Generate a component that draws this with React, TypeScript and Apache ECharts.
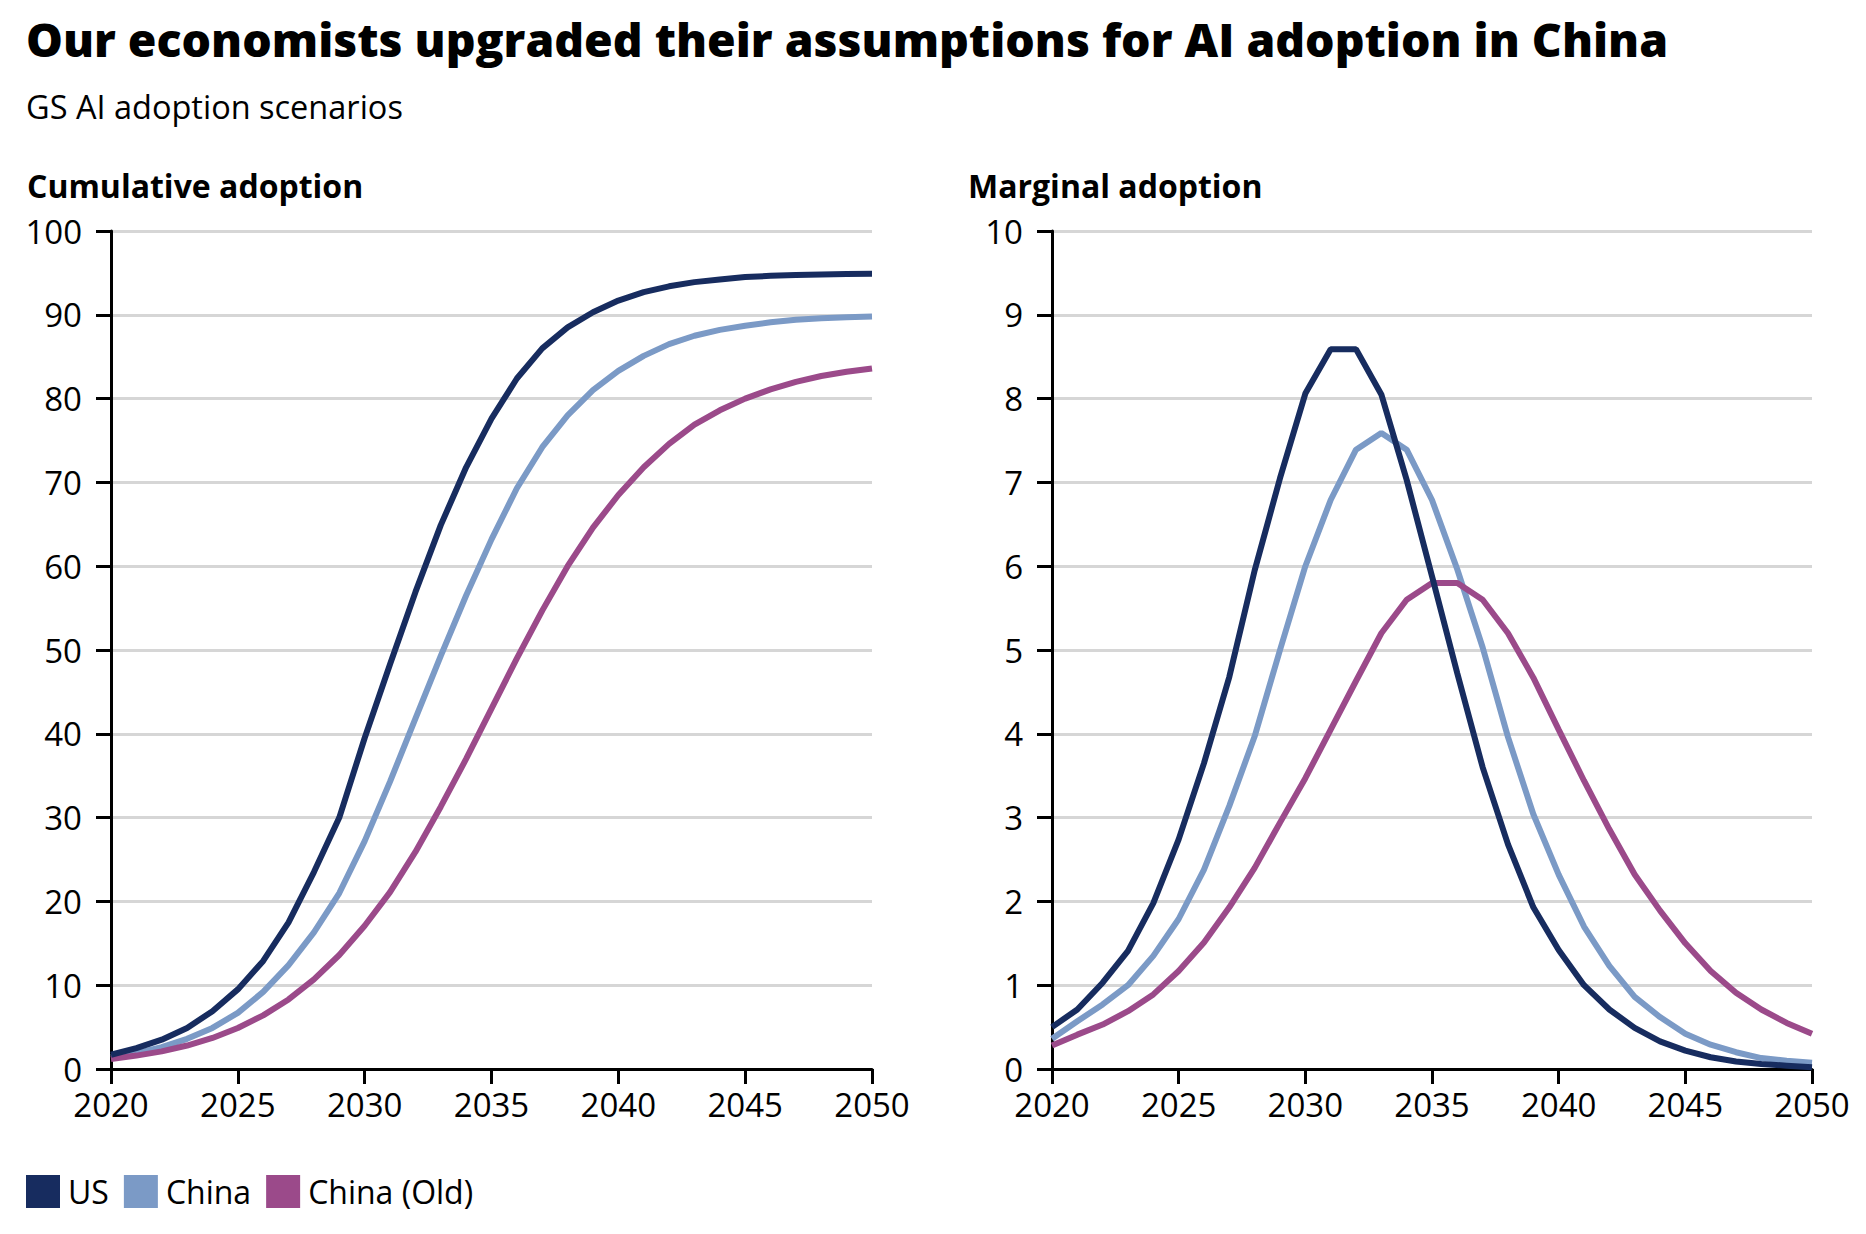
import React, { useEffect, useRef } from "react";
import * as echarts from "echarts";

const years = [2020, 2021, 2022, 2023, 2024, 2025, 2026, 2027, 2028, 2029, 2030, 2031, 2032, 2033, 2034, 2035, 2036, 2037, 2038, 2039, 2040, 2041, 2042, 2043, 2044, 2045, 2046, 2047, 2048, 2049, 2050];

const usCumulative = [1.7, 2.5, 3.5, 4.9, 6.9, 9.5, 12.9, 17.5, 23.5, 30.0, 39.5, 48.3, 56.9, 64.9, 71.8, 77.6, 82.4, 86.0, 88.5, 90.3, 91.7, 92.7, 93.4, 93.9, 94.2, 94.5, 94.65, 94.75, 94.82, 94.87, 94.9];
const chinaCumulative = [1.4, 1.9, 2.6, 3.6, 4.9, 6.7, 9.2, 12.4, 16.3, 21.0, 27.2, 34.3, 41.8, 49.3, 56.5, 63.2, 69.3, 74.2, 78.0, 81.0, 83.3, 85.1, 86.5, 87.5, 88.2, 88.7, 89.1, 89.4, 89.6, 89.7, 89.8];
const chinaOldCumulative = [1.2, 1.6, 2.1, 2.8, 3.7, 4.9, 6.4, 8.3, 10.7, 13.6, 17.1, 21.1, 25.9, 31.3, 37.0, 43.0, 49.0, 54.7, 60.0, 64.6, 68.5, 71.8, 74.6, 76.9, 78.6, 80.0, 81.1, 82.0, 82.7, 83.2, 83.6];

const usMarginal = [0.5, 0.71, 1.03, 1.41, 1.98, 2.74, 3.65, 4.68, 5.95, 7.05, 8.06, 8.59, 8.59, 8.05, 7.03, 5.88, 4.72, 3.6, 2.68, 1.93, 1.42, 1.0, 0.71, 0.49, 0.33, 0.22, 0.14, 0.09, 0.06, 0.04, 0.02];
const chinaMarginal = [0.36, 0.57, 0.77, 1.0, 1.35, 1.79, 2.38, 3.14, 3.97, 5.0, 6.0, 6.79, 7.39, 7.59, 7.39, 6.79, 5.96, 5.03, 3.96, 3.04, 2.32, 1.7, 1.23, 0.86, 0.62, 0.42, 0.29, 0.2, 0.13, 0.1, 0.075];
const chinaOldMarginal = [0.28, 0.41, 0.53, 0.69, 0.89, 1.17, 1.51, 1.93, 2.4, 2.94, 3.47, 4.05, 4.63, 5.2, 5.6, 5.8, 5.8, 5.6, 5.2, 4.67, 4.05, 3.44, 2.86, 2.32, 1.89, 1.5, 1.17, 0.91, 0.71, 0.55, 0.42];

const seriesNames = ["US", "China", "China (Old)"];
const seriesColors = ["#172c5f", "#7b9ac6", "#9b4a8a"];

const TITLE = "Our economists upgraded their assumptions for AI adoption in China";
const SUBTITLE = "GS AI adoption scenarios";
const PANEL_TITLES = ["Cumulative adoption", "Marginal adoption"];

const FONT = "'Open Sans', sans-serif";

function pairs(values: number[]) {
  return years.map((y, i) => [y, values[i]]);
}

export default function App() {
  const ref = useRef<HTMLDivElement>(null);

  useEffect(() => {
    if (!ref.current) return;
    const chart = echarts.init(ref.current, undefined, { renderer: "svg" });

    const xAxisBase = (gridIndex: number) => ({
      type: "value" as const,
      gridIndex,
      min: 2020,
      max: 2050,
      interval: 5,
      axisLine: { show: true, onZero: false, lineStyle: { color: "#000", width: 3 } },
      axisTick: { show: true, inside: false, length: 15, lineStyle: { color: "#000", width: 3 } },
      axisLabel: { color: "#000", fontSize: 33, fontFamily: FONT, margin: 19, formatter: (v: number) => String(v) },
      splitLine: { show: false },
    });

    const yAxisBase = (gridIndex: number, max: number, interval: number) => ({
      type: "value" as const,
      gridIndex,
      min: 0,
      max,
      interval,
      axisLine: { show: true, lineStyle: { color: "#000", width: 3 } },
      axisTick: { show: true, inside: false, length: 15, lineStyle: { color: "#000", width: 3 } },
      axisLabel: { color: "#000", fontSize: 33, fontFamily: FONT, margin: 29 },
      splitLine: { show: true, lineStyle: { color: "#d6d6d6", width: 3 } },
    });

    const cumulative = [usCumulative, chinaCumulative, chinaOldCumulative];
    const marginal = [usMarginal, chinaMarginal, chinaOldMarginal];
    const drawOrder = [1, 2, 0];

    const series: any[] = [];
    [cumulative, marginal].forEach((set, gi) => {
      drawOrder.forEach((si) => {
        series.push({
          type: "line",
          name: seriesNames[si],
          xAxisIndex: gi,
          yAxisIndex: gi,
          data: pairs(set[si]),
          showSymbol: false,
          symbol: "none",
          lineStyle: { color: seriesColors[si], width: 6 },
          itemStyle: { color: seriesColors[si] },
        });
      });
    });

    chart.setOption({
      animation: false,
      backgroundColor: "#fff",
      title: [
        {
          text: TITLE,
          left: 26,
          top: 16,
          padding: 0,
          textStyle: { fontFamily: FONT, fontWeight: 800, fontSize: 46.4, color: "#000" },
        },
        {
          text: SUBTITLE,
          left: 26,
          top: 90,
          padding: 0,
          textStyle: { fontFamily: FONT, fontWeight: "normal", fontSize: 32.5, color: "#000" },
        },
        {
          text: PANEL_TITLES[0],
          left: 27,
          top: 169,
          padding: 0,
          textStyle: { fontFamily: FONT, fontWeight: "bold", fontSize: 32, color: "#000" },
        },
        {
          text: PANEL_TITLES[1],
          left: 968,
          top: 169,
          padding: 0,
          textStyle: { fontFamily: FONT, fontWeight: "bold", fontSize: 32, color: "#000" },
        },
      ],
      legend: {
        data: seriesNames,
        left: 26,
        top: 1175,
        padding: 0,
        icon: "rect",
        itemWidth: 34,
        itemHeight: 33,
        itemGap: 15,
        textStyle: { fontFamily: FONT, fontSize: 32, color: "#000", padding: [0, 0, 0, 3] },
      },
      grid: [
        { left: 111, top: 231, width: 761, height: 838 },
        { left: 1052, top: 231, width: 760, height: 838 },
      ],
      xAxis: [xAxisBase(0), xAxisBase(1)],
      yAxis: [yAxisBase(0, 100, 10), yAxisBase(1, 10, 1)],
      series,
    });

    return () => chart.dispose();
  }, []);

  return (
    <div
      ref={ref}
      style={{ position: "fixed", left: 0, top: 0, width: 1866, height: 1234, background: "#fff" }}
    />
  );
}
